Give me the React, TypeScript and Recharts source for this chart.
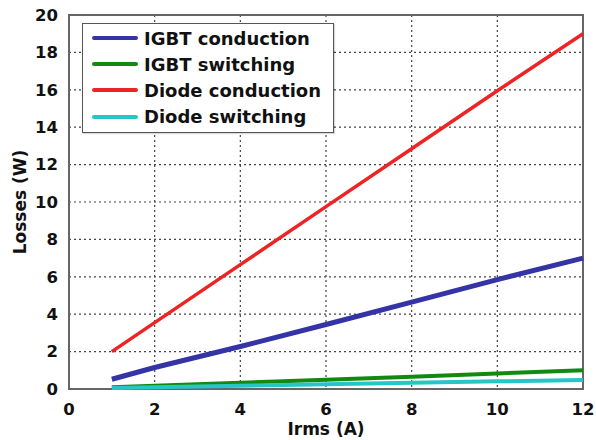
import React from "react";
import {
  LineChart,
  Line,
  XAxis,
  YAxis,
  CartesianGrid,
  ReferenceArea,
} from "recharts";

const irms = [1, 2, 4, 6, 8, 10, 12];
const igbtConduction = [0.52, 1.15, 2.27, 3.45, 4.65, 5.85, 7.0];
const igbtSwitching = [0.1, 0.18, 0.33, 0.5, 0.66, 0.83, 1.0];
const diodeConduction = [2.0, 3.55, 6.65, 9.75, 12.85, 15.95, 19.0];
const diodeSwitching = [0.05, 0.09, 0.17, 0.26, 0.33, 0.41, 0.48];

const xTicks = [0, 2, 4, 6, 8, 10, 12];
const yTicks = [0, 2, 4, 6, 8, 10, 12, 14, 16, 18, 20];

const series = [
  { key: "igbtCond", name: "IGBT conduction", color: "#3434a6", width: 5 },
  { key: "igbtSw", name: "IGBT switching", color: "#128a12", width: 4 },
  { key: "diodeCond", name: "Diode conduction", color: "#ee2424", width: 3.5 },
  { key: "diodeSw", name: "Diode switching", color: "#26c6c6", width: 4 },
];

const data = irms.map((x, i) => ({
  irms: x,
  igbtCond: igbtConduction[i],
  igbtSw: igbtSwitching[i],
  diodeCond: diodeConduction[i],
  diodeSw: diodeSwitching[i],
}));

const FONT = "'DejaVu Sans', Verdana, sans-serif";
const textStyle = { fill: "#111", fontSize: 17, fontWeight: "bold", fontFamily: FONT };

function LegendBox() {
  return (
    <div
      style={{
        position: "absolute",
        left: 82,
        top: 23,
        width: 252,
        height: 110,
        border: "1.5px solid #555",
        background: "#fff",
        padding: "1px 0 0 9px",
        fontFamily: FONT,
        fontWeight: "bold",
        fontSize: 18,
        color: "#111",
        boxSizing: "border-box",
        boxShadow: "1px 1px 1px rgba(0,0,0,0.15)",
      }}
    >
      {series.map((s) => (
        <div key={s.key} style={{ display: "flex", alignItems: "center", height: 26.2, whiteSpace: "nowrap" }}>
          <div style={{ width: 46, height: 4, background: s.color, marginRight: 6, borderRadius: 2, flex: "none" }} />
          <span>{s.name}</span>
        </div>
      ))}
    </div>
  );
}

export default function App() {
  return (
    <div style={{ position: "absolute", left: 0, top: 0, width: 596, height: 440, background: "#fff" }}>
      <LineChart width={596} height={440} data={data} margin={{ top: 15, right: 13, left: 0, bottom: 0 }}>
        <CartesianGrid stroke="#444" strokeDasharray="2 3" strokeWidth={1.2} />
        <XAxis
          dataKey="irms"
          type="number"
          domain={[0, 12]}
          ticks={xTicks}
          height={51}
          axisLine={false}
          tickLine={false}
          tickMargin={8}
          tick={{ ...textStyle, fontSize: 16.5 }}
          label={{ value: "Irms (A)", position: "insideBottom", offset: 5, style: textStyle }}
        />
        <YAxis
          type="number"
          domain={[0, 20]}
          ticks={yTicks}
          width={69}
          axisLine={false}
          tickLine={false}
          tickMargin={5}
          tick={{ ...textStyle, fontSize: 16.5 }}
          label={{
            value: "Losses (W)",
            angle: -90,
            position: "insideLeft",
            offset: 20,
            style: { ...textStyle, textAnchor: "middle" },
          }}
        />
        <ReferenceArea x1={0} x2={12} y1={0} y2={20} fill="none" stroke="#666" strokeWidth={2} />
        {series.map((s) => (
          <Line
            key={s.key}
            type="linear"
            dataKey={s.key}
            name={s.name}
            stroke={s.color}
            strokeWidth={s.width}
            dot={false}
            isAnimationActive={false}
          />
        ))}
      </LineChart>
      <LegendBox />
    </div>
  );
}
